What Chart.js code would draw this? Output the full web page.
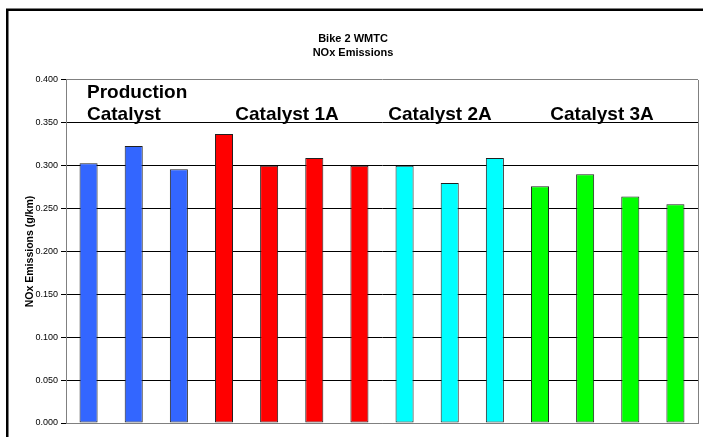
<!DOCTYPE html>
<html>
<head>
<meta charset="utf-8">
<title>Bike 2 WMTC NOx Emissions</title>
<script src="https://cdn.jsdelivr.net/npm/chart.js@4/dist/chart.umd.min.js"></script>
<style>
  html, body { margin: 0; padding: 0; background: #ffffff; }
  #wrap { width: 703px; height: 437px; }
  canvas { display: block; }
</style>
</head>
<body>
<div id="wrap"><canvas id="nox" width="703" height="437"></canvas></div>
<script>
// Test runs, in order, grouped by catalyst
const runLabels = [
  'Production 1', 'Production 2', 'Production 3',
  '1A run 1', '1A run 2', '1A run 3', '1A run 4',
  '2A run 1', '2A run 2', '2A run 3',
  '3A run 1', '3A run 2', '3A run 3', '3A run 4'
];

// NOx emissions per run (g/km)
const noxValues = [
  0.303, 0.323, 0.296,
  0.337, 0.300, 0.309, 0.300,
  0.300, 0.280, 0.309,
  0.276, 0.290, 0.264, 0.255
];

// Catalyst groups and how many consecutive runs belong to each
const groupNames = ['Production Catalyst', 'Catalyst 1A', 'Catalyst 2A', 'Catalyst 3A'];
const groupSizes = [3, 4, 3, 4];

// Y axis tick values
const yTicks = [0, 0.05, 0.10, 0.15, 0.20, 0.25, 0.30, 0.35, 0.40];

// ---- styling ----
const groupColors = ['#3366ff', '#ff0000', '#00ffff', '#00ff00'];
// Where each group caption sits: category position, alignment, text lines
const captionLayout = [
  { at: -0.035, align: 'left',   lines: ['Production', 'Catalyst'] },
  { at: 4.396,  align: 'center', lines: ['Catalyst 1A'] },
  { at: 7.785,  align: 'center', lines: ['Catalyst 2A'] },
  { at: 11.374, align: 'center', lines: ['Catalyst 3A'] }
];

const barColors = [];
groupSizes.forEach((n, g) => { for (let i = 0; i < n; i++) barColors.push(groupColors[g]); });

const frameAndCaptions = {
  id: 'frameAndCaptions',
  beforeDraw(chart) {
    const { ctx, width, height } = chart;
    ctx.save();
    ctx.fillStyle = '#ffffff';
    ctx.fillRect(0, 0, width, height);
    ctx.restore();
  },
  afterDraw(chart) {
    const { ctx, chartArea } = chart;
    const xs = chart.scales.x;
    ctx.save();
    // right edge of the plot area
    ctx.strokeStyle = '#808080';
    ctx.lineWidth = 1;
    ctx.beginPath();
    ctx.moveTo(Math.round(chartArea.right) + 0.5, chartArea.top);
    ctx.lineTo(Math.round(chartArea.right) + 0.5, chartArea.bottom);
    ctx.stroke();

    // outer chart frame
    ctx.strokeStyle = '#000000';
    ctx.lineWidth = 2.5;
    ctx.strokeRect(7.25, 9.75, 720, 460);

    // group captions
    ctx.fillStyle = '#000000';
    ctx.font = 'bold 19px Arial, "Liberation Sans", sans-serif';
    ctx.textBaseline = 'alphabetic';
    captionLayout.forEach(c => {
      const x = xs.getPixelForValue(c.at);
      ctx.textAlign = c.align;
      const n = c.lines.length;
      c.lines.forEach((line, i) => {
        const y = chartArea.top + 40 - (n - 1 - i) * 22;
        ctx.fillText(line, x, y);
      });
    });
    ctx.restore();
  }
};

new Chart(document.getElementById('nox'), {
  type: 'bar',
  data: {
    labels: runLabels,
    datasets: [{
      label: 'NOx Emissions',
      data: noxValues,
      backgroundColor: barColors,
      borderColor: '#202020',
      borderWidth: 1,
      borderSkipped: false,
      categoryPercentage: 1.0,
      barPercentage: 0.4
    }]
  },
  options: {
    responsive: false,
    animation: false,
    devicePixelRatio: 1,
    layout: { padding: { left: 8, right: 5, top: 0, bottom: 14 } },
    plugins: {
      legend: { display: false },
      tooltip: { enabled: false },
      title: {
        display: true,
        text: ['Bike 2 WMTC', 'NOx Emissions'],
        color: '#000000',
        font: { family: 'Arial, "Liberation Sans", sans-serif', size: 11, weight: 'bold', lineHeight: 1.2727 },
        padding: { top: 32, bottom: 20 }
      }
    },
    scales: {
      x: {
        grid: { display: false, drawTicks: false },
        ticks: { display: false },
        border: { display: true, color: '#808080', width: 1 }
      },
      y: {
        min: 0,
        max: 0.4,
        afterBuildTicks: s => { s.ticks = yTicks.map(v => ({ value: v })); },
        afterFit: s => { s.width = 58; },
        ticks: {
          callback: v => Number(v).toFixed(3),
          color: '#000000',
          font: { family: 'Arial, "Liberation Sans", sans-serif', size: 9 },
          padding: 3
        },
        grid: {
          color: c => (c.tick && (c.tick.value === 0 || c.tick.value >= 0.399)) ? '#808080' : '#000000',
          tickColor: '#000000',
          lineWidth: 1,
          tickLength: 5
        },
        border: { display: true, color: '#808080', width: 1 },
        title: {
          display: true,
          text: 'NOx Emissions (g/km)',
          color: '#000000',
          font: { family: 'Arial, "Liberation Sans", sans-serif', size: 10.5, weight: 'bold', lineHeight: 1.2 },
          padding: { top: 16, bottom: 0 }
        }
      }
    }
  },
  plugins: [frameAndCaptions]
});
</script>
</body>
</html>
